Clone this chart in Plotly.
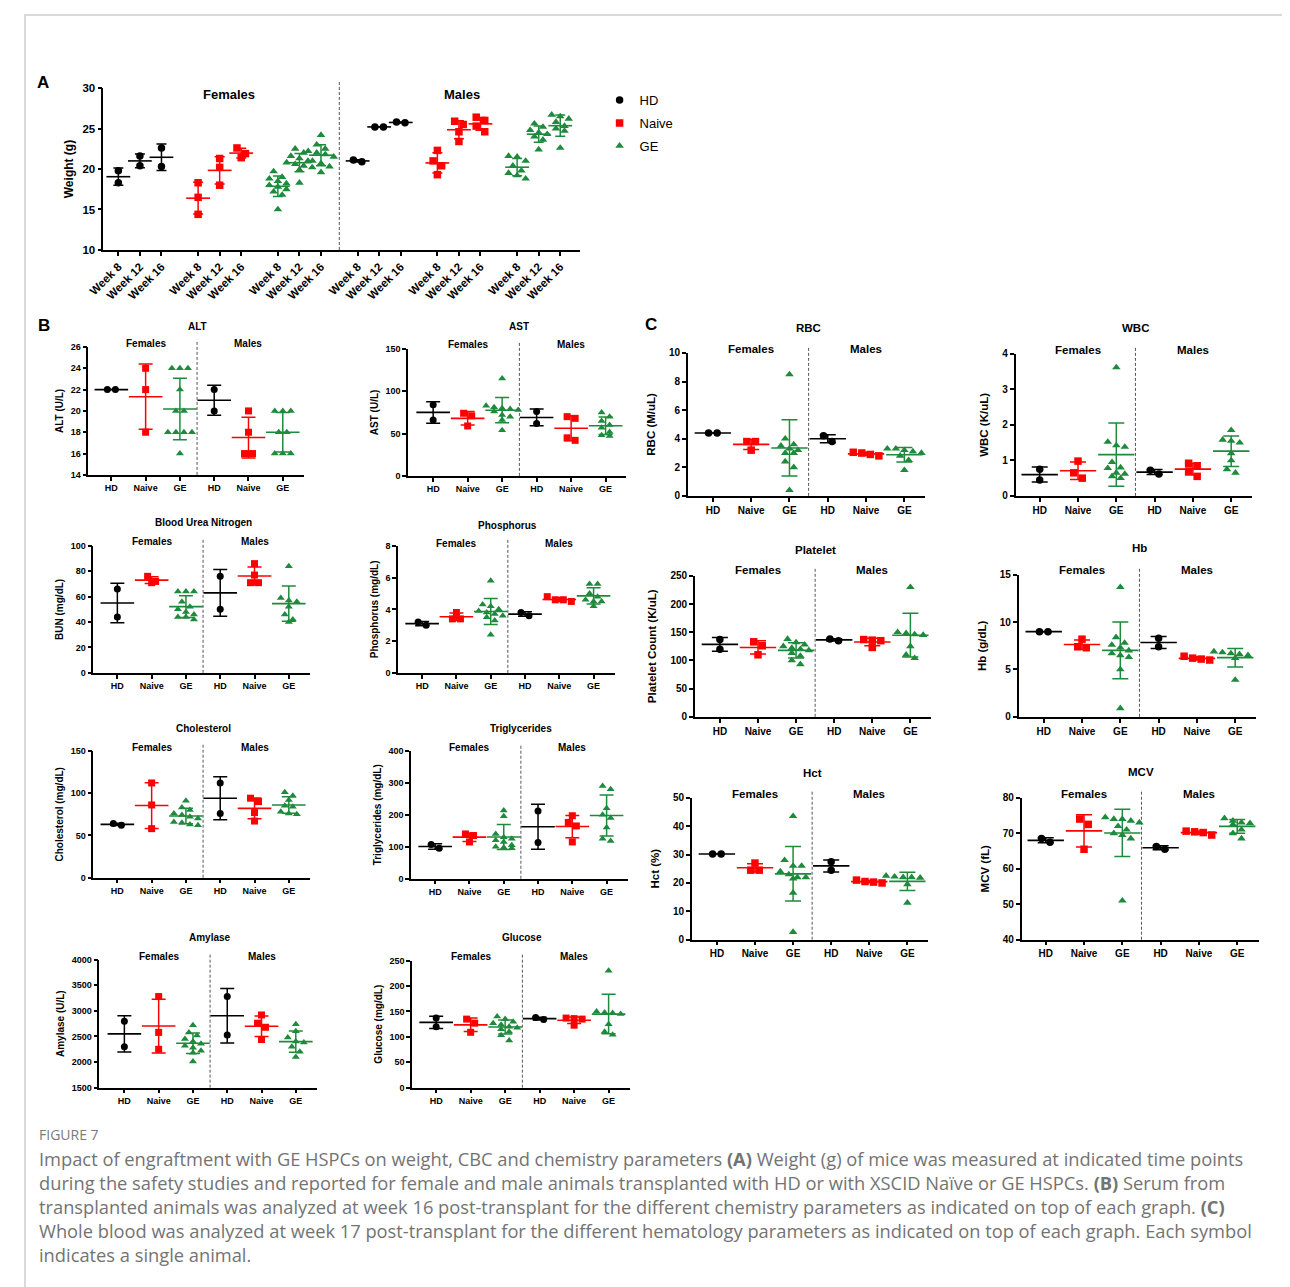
import plotly.graph_objects as go
import numpy as np

# ---------------- DATA ----------------
GROUPS = ["HD", "Naive", "GE", "HD", "Naive", "GE"]
WEEKS = ["Week 8", "Week 12", "Week 16"]

WEIGHT_F_HD = [[19.8, 18.3], [21.6, 20.4], [22.6, 20.3]]
WEIGHT_F_NAIVE = [[18.3, 16.5, 14.4], [21.3, 20.2, 18.0], [22.6, 21.9, 21.4]]
WEIGHT_F_GE = [[19.7, 19.0, 18.8, 18.5, 18.2, 18.0, 17.8, 17.5, 17.2, 16.8, 15.0],
               [22.5, 22.0, 21.6, 21.3, 21.0, 20.8, 20.6, 20.4, 20.2, 19.9, 18.3],
               [24.2, 23.0, 22.5, 22.2, 22.0, 21.8, 21.5, 21.0, 20.7, 20.3, 19.6]]
WEIGHT_M_HD = [[20.9, 21.1], [25.2, 25.2], [25.7, 25.8]]
WEIGHT_M_NAIVE = [[22.3, 21.0, 20.4, 19.3], [25.9, 25.5, 24.6, 23.4], [26.4, 26.0, 25.3, 24.6]]
WEIGHT_M_GE = [[21.6, 21.5, 21.0, 20.4, 19.8, 19.5, 19.2, 18.8],
               [25.6, 25.2, 24.8, 24.5, 24.3, 24.0, 23.6, 22.4],
               [26.7, 26.5, 26.2, 25.8, 25.3, 25.0, 24.7, 22.6]]

ALT = [[22, 22], [24, 22, 18], [24, 24, 24, 22, 20, 20, 18, 18, 18, 18, 16], [22, 20], [20, 18, 16, 16],
       [20, 20, 20, 18, 18, 16, 16, 16]]
AST = [[84, 66], [74, 71, 59], [115, 83, 81, 80, 79, 78, 76, 72, 70, 66, 54], [76, 62], [70, 68, 45, 42],
       [75, 70, 65, 60, 57, 52, 48, 47]]
BUN = [[66, 44], [76, 72, 71], [64, 64, 64, 56, 52, 50, 48, 46, 44, 44, 42], [76, 50], [86, 77, 71, 71],
       [84, 59, 57, 56, 52, 46, 42, 40]]
PHOS = [[3.2, 3.0], [3.8, 3.4, 3.4], [5.8, 4.3, 4.2, 4.0, 3.9, 3.8, 3.7, 3.6, 3.5, 3.3, 2.4], [3.8, 3.6],
        [4.8, 4.6, 4.6, 4.5], [5.6, 5.6, 5.0, 4.8, 4.6, 4.5, 4.5, 4.2]]
CHOL = [[62, 64], [112, 86, 58], [91, 83, 80, 76, 74, 72, 70, 66, 65, 63, 62], [112, 76], [94, 90, 77, 67],
        [101, 97, 92, 85, 84, 78, 76, 75]]
TRIG = [[107, 95], [140, 135, 115], [213, 195, 140, 130, 125, 120, 115, 105, 100, 98, 95], [212, 113],
        [197, 176, 165, 115], [290, 280, 220, 200, 190, 160, 125, 118]]
AMYL = [[2800, 2300], [3280, 2580, 2250], [2720, 2580, 2520, 2450, 2400, 2360, 2320, 2280, 2220, 2180, 2010],
        [3280, 2530], [2920, 2760, 2680, 2440], [2740, 2600, 2480, 2400, 2380, 2300, 2200, 2100]]
GLUC = [[137, 120], [135, 127, 109], [140, 135, 130, 127, 124, 120, 118, 115, 110, 103, 93], [134, 138],
        [137, 136, 135, 123], [230, 150, 148, 147, 145, 125, 110, 104]]
RBC = [[4.4, 4.4], [3.8, 3.8, 3.2], [8.5, 4.0, 3.6, 3.5, 3.3, 3.2, 3.0, 3.0, 2.4, 2.0, 0.4], [4.2, 3.8],
       [3.05, 3.0, 2.9, 2.8], [3.3, 3.3, 3.2, 3.1, 3.0, 2.8, 2.5, 1.8]]
WBC = [[0.75, 0.45], [0.98, 0.65, 0.5], [3.62, 1.52, 1.42, 1.38, 0.95, 0.8, 0.78, 0.65, 0.62, 0.55, 0.5],
       [0.72, 0.62], [0.92, 0.85, 0.7, 0.55], [1.85, 1.58, 1.55, 1.5, 1.2, 1.0, 0.75, 0.65]]
PLT = [[137, 120], [133, 126, 110], [138, 132, 128, 125, 122, 120, 118, 113, 108, 100, 93], [138, 135],
       [137, 136, 135, 123], [230, 150, 148, 146, 145, 125, 110, 104]]
HB = [[9.0, 9.0], [8.2, 7.4, 7.3], [13.7, 8.4, 7.8, 7.6, 7.3, 7.0, 6.7, 6.5, 6.3, 5.0, 0.9], [8.3, 7.4],
      [6.4, 6.2, 6.1, 6.0], [6.9, 6.8, 6.7, 6.6, 6.5, 6.4, 6.2, 3.9]]
HCT = [[30.2, 30.2], [27, 24.5, 24.5], [43.5, 28, 26, 26, 24, 23, 22, 22, 21.5, 16.5, 2.7], [27.5, 24.5],
       [21, 20.5, 20.3, 20], [22.5, 22.2, 22, 22, 21.8, 21.5, 19.5, 13]]
MCV = [[68.5, 67.5], [74, 72.5, 65.5], [74.5, 74, 74, 73.5, 73, 72, 71, 70, 69.5, 68.5, 51], [66.3, 65.5],
       [70.6, 70.4, 70.2, 69.5], [74.2, 73.5, 73, 72.8, 72.5, 71, 70, 68.5]]

CAPTION_HEAD = "FIGURE 7"
CAPTION_LINES = [
    "Impact of engraftment with GE HSPCs on weight, CBC and chemistry parameters <b>(A)</b> Weight (g) of mice was measured at indicated time points",
    "during the safety studies and reported for female and male animals transplanted with HD or with XSCID Naïve or GE HSPCs. <b>(B)</b> Serum from",
    "transplanted animals was analyzed at week 16 post-transplant for the different chemistry parameters as indicated on top of each graph. <b>(C)</b>",
    "Whole blood was analyzed at week 17 post-transplant for the different hematology parameters as indicated on top of each graph. Each symbol",
    "indicates a single animal.",
]

# ---------------- STYLE ----------------
OFF = 8  # page body margin
FW, FH = 1290 - 8, 1287 - 8
# mapping from target picture pixels to page pixels (calibrated against earlier renders)
SX, BX = 0.985, 16.0
SY, BY = 0.991, 6.0
FONT = "Liberation Sans, Arial, sans-serif"
COLORS = {"HD": "#000000", "Naive": "#ff0000", "GE": "#1e8a3c"}
SYMBOLS = {"HD": "circle", "Naive": "square", "GE": "triangle-up"}

fig = go.Figure()
layout = {}
annotations = []
shapes = []
counter = [0]


def px2x(p):
    page = (p - BX) / SX
    return (page - OFF) / FW


def px2y(p):
    page = (p - BY) / SY
    return 1 - (page - OFF) / FH


def swarm(vals, pos, ymin, ymax, hpx, dxpx, msize):
    vals = list(vals)
    n = len(vals)
    ypx = [(v - ymin) / (ymax - ymin) * hpx for v in vals]
    order = sorted(range(n), key=lambda i: -vals[i])
    rows, cur = [], [order[0]]
    for i in order[1:]:
        if abs(ypx[i] - ypx[cur[0]]) < msize * 0.8:
            cur.append(i)
        else:
            rows.append(cur)
            cur = [i]
    rows.append(cur)
    xs = [pos] * n
    for row in rows:
        k = len(row)
        for j, i in enumerate(row):
            xs[i] = pos + (j - (k - 1) / 2) * (msize + 1) / dxpx
    return xs


def new_axes(ax_px, right_px, ytop, ybot, xrange, yrange, yticks, ytitle, fs_tick, fs_ytitle,
             xtickvals, xticktext, tickangle=0, standoff=5):
    counter[0] += 1
    n = counter[0]
    xa_name = "xaxis" if n == 1 else f"xaxis{n}"
    ya_name = "yaxis" if n == 1 else f"yaxis{n}"
    xr = "x" if n == 1 else f"x{n}"
    yr = "y" if n == 1 else f"y{n}"
    tf = dict(family=FONT, size=fs_tick, color="black", weight="bold")
    layout[xa_name] = dict(domain=[px2x(ax_px), px2x(right_px)], range=xrange, anchor=yr,
                           showline=True, linecolor="black", linewidth=1.5, ticks="outside",
                           ticklen=4, tickwidth=1.5, tickcolor="black", tickvals=xtickvals,
                           ticktext=xticktext, showgrid=False, zeroline=False, tickfont=tf,
                           tickangle=tickangle, fixedrange=True)
    layout[ya_name] = dict(domain=[px2y(ybot), px2y(ytop)], range=yrange, anchor=xr,
                           showline=True, linecolor="black", linewidth=1.5, ticks="outside",
                           ticklen=4, tickwidth=1.5, tickcolor="black", tickvals=yticks,
                           showgrid=False, zeroline=False, tickfont=tf, fixedrange=True,
                           title=dict(text=ytitle, standoff=standoff,
                                      font=dict(family=FONT, size=fs_ytitle, color="black", weight="bold")))
    return xr, yr


def add_group(xr, yr, vals, pos, grp, ymin, ymax, hpx, dxpx, msize, mean_w, cap_w, legend=False):
    c = COLORS[grp]
    xs = swarm(vals, pos, ymin, ymax, hpx, dxpx, msize)
    fig.add_trace(go.Scatter(x=xs, y=vals, xaxis=xr, yaxis=yr, mode="markers",
                             marker=dict(symbol=SYMBOLS[grp], size=msize, color=c, line=dict(width=0)),
                             cliponaxis=False, name=grp, showlegend=legend, legendgroup=grp,
                             hoverinfo="skip"))
    m = float(np.mean(vals))
    sd = float(np.std(vals, ddof=1)) if len(vals) > 1 else 0.0
    fig.add_trace(go.Scatter(x=[pos], y=[m], xaxis=xr, yaxis=yr, mode="markers",
                             marker=dict(symbol="line-ew", size=mean_w, color=c, line=dict(width=1.6, color=c)),
                             error_y=dict(type="data", array=[sd], color=c, thickness=1.5, width=cap_w),
                             cliponaxis=False, showlegend=False, hoverinfo="skip"))


def label(text, x, y, size, color="black", family=FONT, xanchor="center"):
    annotations.append(dict(text=text, x=px2x(x), y=px2y(y), xref="paper", yref="paper",
                            xanchor=xanchor, yanchor="middle", showarrow=False,
                            font=dict(family=family, size=size, color=color)))


# ---------------- PANEL A ----------------
A_AX, A_T0, A_DX, A_RIGHT, A_TOP, A_BOT = 103, 118, 21.5, 578, 88, 250
A_YMIN, A_YMAX = 10, 30
GROUP_STEP = 3.7
a_sets = [("HD", WEIGHT_F_HD), ("Naive", WEIGHT_F_NAIVE), ("GE", WEIGHT_F_GE),
          ("HD", WEIGHT_M_HD), ("Naive", WEIGHT_M_NAIVE), ("GE", WEIGHT_M_GE)]
a_pos, a_text = [], []
for g in range(6):
    for w in range(3):
        a_pos.append(g * GROUP_STEP + w)
        a_text.append(WEEKS[w])
xr, yr = new_axes(A_AX, A_RIGHT, A_TOP, A_BOT,
                  [(A_AX - A_T0) / A_DX, (A_RIGHT - A_T0) / A_DX], [A_YMIN, A_YMAX],
                  [10, 15, 20, 25, 30], "Weight (g)", 11.5, 12, a_pos, a_text, tickangle=-45, standoff=6)
seen = set()
for g, (grp, weeks) in enumerate(a_sets):
    for w, vals in enumerate(weeks):
        leg = grp not in seen
        seen.add(grp)
        add_group(xr, yr, vals, g * GROUP_STEP + w, grp, A_YMIN, A_YMAX, A_BOT - A_TOP, A_DX, 7.5, 17, 5,
                  legend=leg)
a_div = (2 * GROUP_STEP + 2 + 3 * GROUP_STEP) / 2
shapes.append(dict(type="line", xref=xr, yref="paper", x0=a_div, x1=a_div,
                   y0=px2y(A_BOT), y1=px2y(A_TOP - 6), line=dict(color="#555555", width=1, dash="3px,2px")))
label("<b>Females</b>", 228, 94, 13)
label("<b>Males</b>", 461, 94, 13)

# ---------------- PANELS B & C ----------------
PANELS = [
    # data, title, ytitle, yrange, yticks, ax, t0, dx, right, ytop, ybot, title_y, sub_y, size-class
    (ALT, "ALT", "ALT (U/L)", [14, 26], [14, 16, 18, 20, 22, 24, 26], 88, 111, 34.2, 303, 347, 475, 327, 344, "B"),
    (AST, "AST", "AST (U/L)", [0, 150], [0, 50, 100, 150], 407, 432, 34.4, 624, 349, 476, 327, 345, "B"),
    (BUN, "Blood Urea Nitrogen", "BUN (mg/dL)", [0, 100], [0, 20, 40, 60, 80, 100], 93, 117, 34.2, 309, 546, 673, 523, 542, "B"),
    (PHOS, "Phosphorus", "Phosphorus (mg/dL)", [0, 8], [0, 2, 4, 6, 8], 397, 421, 34.2, 613, 546, 673, 526, 544, "B"),
    (CHOL, "Cholesterol", "Cholesterol (mg/dL)", [0, 150], [0, 50, 100, 150], 93, 117, 34.2, 309, 751, 878, 729, 748, "B"),
    (TRIG, "Triglycerides", "Triglycerides (mg/dL)", [0, 400], [0, 100, 200, 300, 400], 410, 434, 34.2, 626, 751, 879, 729, 748, "B"),
    (AMYL, "Amylase", "Amylase (U/L)", [1500, 4000], [1500, 2000, 2500, 3000, 3500, 4000], 99, 124, 34.2, 316, 960, 1088, 938, 957, "B"),
    (GLUC, "Glucose", "Glucose (mg/dL)", [0, 250], [0, 50, 100, 150, 200, 250], 411, 435, 34.4, 628, 961, 1088, 938, 957, "B"),
    (RBC, "RBC", "RBC (M/uL)", [0, 10], [0, 2, 4, 6, 8, 10], 686, 711, 38.2, 923, 353, 496, 328, 349, "C"),
    (WBC, "WBC", "WBC (K/uL)", [0, 4], [0, 1, 2, 3, 4], 1013, 1037, 38.2, 1249, 354, 496, 328, 350, "C"),
    (PLT, "Platelet", "Platelet Count (K/uL)", [0, 250], [0, 50, 100, 150, 200, 250], 693, 718, 38.0, 929, 576, 717, 550, 570, "C"),
    (HB, "Hb", "Hb (g/dL)", [0, 15], [0, 5, 10, 15], 1016, 1041, 38.2, 1253, 575, 717, 548, 570, "C"),
    (HCT, "Hct", "Hct (%)", [0, 50], [0, 10, 20, 30, 40, 50], 690, 715, 38.0, 926, 798, 940, 773, 794, "C"),
    (MCV, "MCV", "MCV (fL)", [40, 80], [40, 50, 60, 70, 80], 1019, 1043, 38.2, 1256, 798, 940, 772, 794, "C"),
]

for (data, title, ytitle, yrange, yticks, ax, t0, dx, right, ytop, ybot, ty, sy, cls) in PANELS:
    if cls == "B":
        fs_tick, fs_yt, fs_t, fs_s, ms, mw, cw, so = 9, 10, 10, 10, 7, 24, 7, 5
    else:
        fs_tick, fs_yt, fs_t, fs_s, ms, mw, cw, so = 10, 11.5, 11.5, 11.5, 7.5, 26, 8, 11
    xrange = [1 - (t0 - ax) / dx, 1 + (right - t0) / dx]
    xr, yr = new_axes(ax, right, ytop, ybot, xrange, yrange, yticks, ytitle, fs_tick, fs_yt,
                      [1, 2, 3, 4, 5, 6], GROUPS, standoff=so)
    for i, (grp, vals) in enumerate(zip(GROUPS, data)):
        add_group(xr, yr, vals, i + 1, grp, yrange[0], yrange[1], ybot - ytop, dx, ms, mw, cw)
    shapes.append(dict(type="line", xref=xr, yref="paper", x0=3.5, x1=3.5, y0=px2y(ybot), y1=px2y(ytop - 7),
                       line=dict(color="#555555", width=1, dash="3px,2px")))
    label(f"<b>{title}</b>", t0 + 2.5 * dx, ty, fs_t)
    label("<b>Females</b>", t0 + dx, sy, fs_s)
    label("<b>Males</b>", t0 + 4 * dx, sy, fs_s)

# panel letters
for letter, lx, ly in [("A", 43, 82), ("B", 44, 326), ("C", 649, 325)]:
    label(f"<b>{letter}</b>", lx, ly, 17)

# caption
CAP_FONT = "Open Sans, sans-serif"
label(CAPTION_HEAD, 37, 1135, 14, color="#7a7a7a", family=CAP_FONT, xanchor="left")
for i, line in enumerate(CAPTION_LINES):
    label(line, 37, 1159 + i * 24, 18.3, color="#737373", family=CAP_FONT, xanchor="left")

# frame (kept just inside the drawable area)
shapes.append(dict(type="rect", xref="paper", yref="paper", x0=0.0008, x1=1.05, y0=-0.05,
                   y1=0.9992, line=dict(color="#d9d9d9", width=2), fillcolor="rgba(0,0,0,0)", layer="below"))

fig.update_layout(
    width=FW, height=FH, margin=dict(l=0, r=0, t=0, b=0),
    paper_bgcolor="white", plot_bgcolor="white",
    showlegend=True,
    legend=dict(x=px2x(598), y=px2y(85), xanchor="left", yanchor="top", bgcolor="rgba(0,0,0,0)",
                font=dict(family=FONT, size=13, color="black"), traceorder="grouped", tracegroupgap=3,
                itemwidth=30),
    annotations=annotations, shapes=shapes,
    **layout,
)

fig.write_html("out.html")
